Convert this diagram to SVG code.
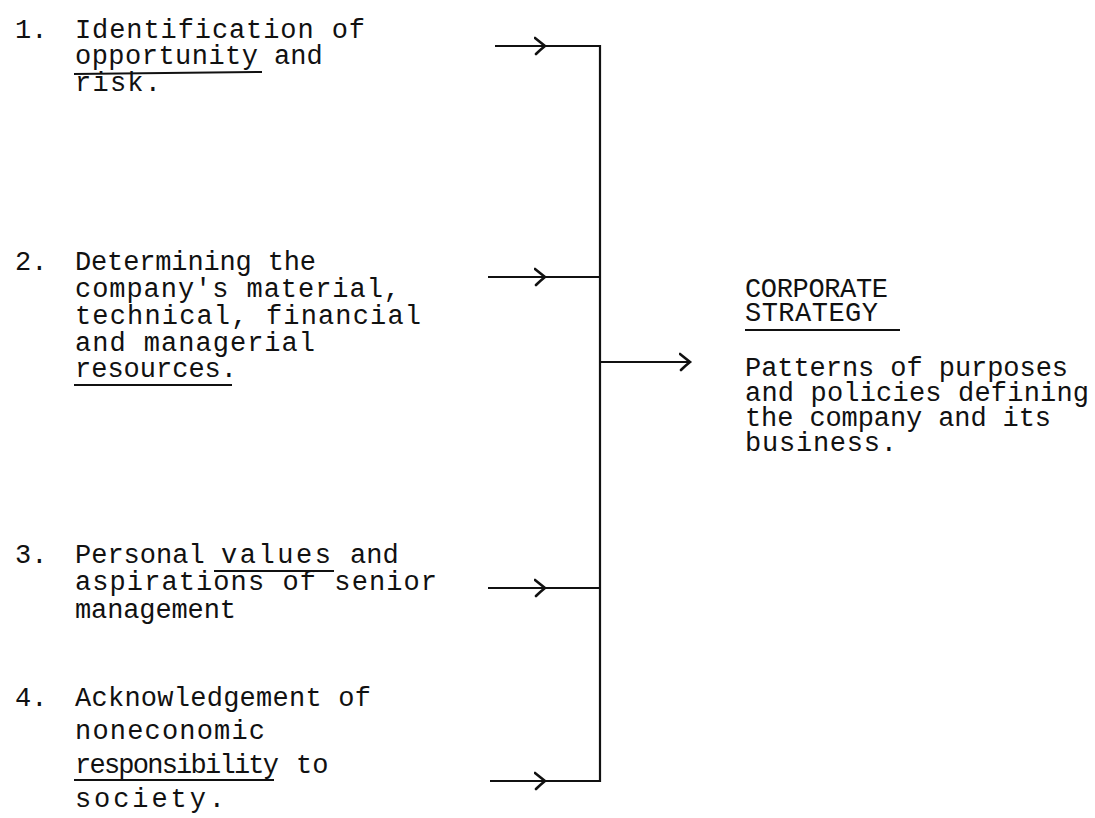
<svg xmlns="http://www.w3.org/2000/svg" width="1095" height="818" viewBox="0 0 1095 818">
  <style>
    .t { font-family: "Liberation Mono", "DejaVu Sans Mono", monospace; font-size: 27px; fill: #111; }
    .ln { stroke: #111; stroke-width: 2.2; fill: none; }
    .ul { stroke: #111; stroke-width: 2; }
  </style>
  <defs>
    <!-- open chevron head, drawn at a path vertex or end -->
    <marker id="chev" markerWidth="14" markerHeight="20" refX="11" refY="10" orient="auto" markerUnits="userSpaceOnUse">
      <path d="M1,2 Q6,6 11,10 Q6,14 2,18" fill="none" stroke="#111" stroke-width="2.6" stroke-linecap="round"/>
    </marker>
  </defs>

  <rect width="1095" height="818" fill="#fff"/>

  <g id="factor-1">
    <text class="t" x="15" y="38">1.</text>
    <text class="t" x="75" y="38" textLength="290" lengthAdjust="spacing">Identification of</text>
    <text class="t" x="75" y="64" textLength="183" lengthAdjust="spacing">opportunity</text>
    <text class="t" x="274" y="64">and</text>
    <text class="t" x="75" y="91" textLength="86" lengthAdjust="spacing">risk.</text>
    <line class="ul" x1="74" y1="74" x2="262" y2="72"/>
  </g>

  <g id="factor-2">
    <text class="t" x="15" y="270">2.</text>
    <text class="t" x="75" y="270" textLength="241" lengthAdjust="spacing">Determining the</text>
    <text class="t" x="75" y="297" textLength="325" lengthAdjust="spacing">company's material,</text>
    <text class="t" x="75" y="324" textLength="346" lengthAdjust="spacing">technical, financial</text>
    <text class="t" x="75" y="351" textLength="240" lengthAdjust="spacing">and managerial</text>
    <text class="t" x="75" y="377" textLength="162" lengthAdjust="spacing">resources.</text>
    <line class="ul" x1="74" y1="385" x2="232" y2="385"/>
  </g>

  <g id="factor-3">
    <text class="t" x="15" y="563">3.</text>
    <text class="t" x="75" y="563">Personal</text>
    <text class="t" x="221" y="563" textLength="110" lengthAdjust="spacing">values</text>
    <text class="t" x="350" y="563">and</text>
    <text class="t" x="75" y="590" textLength="362" lengthAdjust="spacing">aspirations of senior</text>
    <text class="t" x="75" y="618" textLength="161" lengthAdjust="spacing">management</text>
    <line class="ul" x1="214" y1="571" x2="334" y2="571"/>
  </g>

  <g id="factor-4">
    <text class="t" x="15" y="706">4.</text>
    <text class="t" x="75" y="706" textLength="296" lengthAdjust="spacing">Acknowledgement of</text>
    <text class="t" x="75" y="739" textLength="190" lengthAdjust="spacing">noneconomic</text>
    <text class="t" x="75" y="773" textLength="204" lengthAdjust="spacing">responsibility</text>
    <text class="t" x="296" y="773">to</text>
    <text class="t" x="75" y="807" textLength="150" lengthAdjust="spacing">society.</text>
    <line class="ul" x1="74" y1="780" x2="274" y2="780"/>
  </g>

  <g id="corporate-strategy">
    <text class="t" x="745" y="297" textLength="143" lengthAdjust="spacing">CORPORATE</text>
    <text class="t" x="745" y="321" textLength="133" lengthAdjust="spacing">STRATEGY</text>
    <line class="ul" x1="745" y1="330" x2="900" y2="330"/>
    <text class="t" x="745" y="376" textLength="323" lengthAdjust="spacing">Patterns of purposes</text>
    <text class="t" x="745" y="401" textLength="344" lengthAdjust="spacing">and policies defining</text>
    <text class="t" x="745" y="426" textLength="306" lengthAdjust="spacing">the company and its</text>
    <text class="t" x="745" y="451" textLength="152" lengthAdjust="spacing">business.</text>
  </g>

  <g id="connectors">
    <path class="ln" d="M495,46 L545,46 L600,46" marker-mid="url(#chev)"/>
    <path class="ln" d="M488,277 L545,277 L600,277" marker-mid="url(#chev)"/>
    <path class="ln" d="M488,588 L545,588 L600,588" marker-mid="url(#chev)"/>
    <path class="ln" d="M490,781 L545,781 L600,781" marker-mid="url(#chev)"/>
    <line class="ln" x1="600" y1="45" x2="600" y2="782"/>
    <path class="ln" d="M600,362 L690,362" marker-end="url(#chev)"/>
  </g>
</svg>
